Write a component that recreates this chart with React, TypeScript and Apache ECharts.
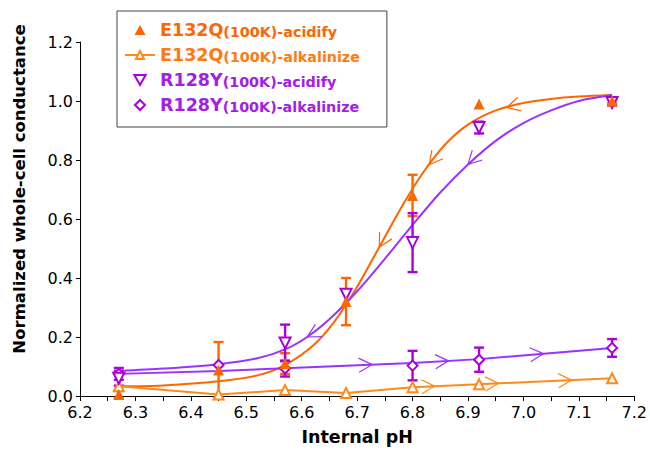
import React, { useEffect, useRef } from 'react';
import * as echarts from 'echarts';

const FONT = '"DejaVu Sans", "Liberation Sans", sans-serif';

// ---- data ----
// E132Q(100K)-acidify : filled triangles, mean ± error
const e132qAcidX = [6.27, 6.45, 6.57, 6.68, 6.8, 6.92, 7.16];
const e132qAcidY = [0.005, 0.088, 0.11, 0.32, 0.68, 0.99, 1.0];
const e132qAcidErr = [0.012, 0.095, 0.035, 0.08, 0.07, 0, 0.008];

// E132Q(100K)-alkalinize : open triangles joined by a line
const e132qAlkX = [6.27, 6.45, 6.57, 6.68, 6.8, 6.92, 7.16];
const e132qAlkY = [0.033, 0.005, 0.02, 0.01, 0.03, 0.04, 0.06];

// R128Y(100K)-acidify : open down-triangles
const r128yAcidX = [6.27, 6.57, 6.68, 6.8, 6.92, 7.16];
const r128yAcidY = [0.06, 0.18, 0.345, 0.52, 0.91, 0.995];
const r128yAcidErr = [0.025, 0.062, 0, 0.1, 0.02, 0.01];

// R128Y(100K)-alkalinize : open diamonds
const r128yAlkX = [6.27, 6.45, 6.57, 6.8, 6.92, 7.16];
const r128yAlkY = [0.075, 0.105, 0.093, 0.103, 0.123, 0.163];
const r128yAlkErr = [0.02, 0, 0.027, 0.05, 0.041, 0.03];

// fitted curves
const e132qFitX = [6.27, 6.35, 6.45, 6.52, 6.57, 6.62, 6.66, 6.7, 6.74, 6.78, 6.82, 6.86, 6.9, 6.95, 7.0, 7.05, 7.1, 7.16];
const e132qFitY = [0.033, 0.036, 0.05, 0.07, 0.105, 0.17, 0.255, 0.37, 0.505, 0.64, 0.76, 0.855, 0.92, 0.968, 0.993, 1.007, 1.015, 1.02];
const r128yFitX = [6.27, 6.35, 6.45, 6.52, 6.57, 6.61, 6.65, 6.7, 6.75, 6.8, 6.85, 6.9, 6.95, 7.0, 7.05, 7.1, 7.16];
const r128yFitY = [0.085, 0.093, 0.108, 0.128, 0.158, 0.2, 0.26, 0.355, 0.465, 0.58, 0.69, 0.785, 0.865, 0.925, 0.968, 1.0, 1.02];
const r128yAlkLineX = [6.27, 6.45, 6.57, 6.8, 6.92, 7.16];
const r128yAlkLineY = [0.075, 0.085, 0.094, 0.112, 0.125, 0.163];

// arrow heads along the lines (x positions)
const e132qFitArrows = [6.74, 6.83, 6.97];
const r128yFitArrows = [6.61, 6.9];
const e132qAlkArrows = [6.84, 6.955, 7.087];
const r128yAlkArrows = [6.727, 6.865, 7.036];

const legendNames = [
  'E132Q(100K)-acidify',
  'E132Q(100K)-alkalinize',
  'R128Y(100K)-acidify',
  'R128Y(100K)-alkalinize',
];

const C_E_ACID = '#FF6600';
const C_E_ALK = '#FF8A1A';
const C_R_MARK = '#AA00DD';
const C_R_LINE = '#9933FF';
const TXT = ['#FF6600', '#FF7A10', '#A220E6', '#A220E6'];

const ICON_UP = 'path://M5,0 L10,9 L0,9 Z';
const ICON_DOWN = 'path://M0,0 L9,0 L4.5,8 Z';
const ICON_DIAMOND = 'path://M4,0 L8,4 L4,8 L0,4 Z';

const zip = (xs: number[], ys: number[]) => xs.map((x, i) => [x, ys[i]]);

function errSeries(xs: number[], ys: number[], es: number[], color: string) {
  const data = xs
    .map((x, i) => [x, ys[i] - es[i], ys[i] + es[i], es[i]])
    .filter((d) => d[3] > 0);
  return {
    type: 'custom',
    silent: true,
    z: 4,
    data,
    encode: { x: 0, y: [1, 2] },
    renderItem: (_p: any, api: any) => {
      const x = api.value(0);
      const lo = api.coord([x, api.value(1)]);
      const hi = api.coord([x, api.value(2)]);
      const hw = 5;
      const st = { stroke: color, lineWidth: 2.4 };
      return {
        type: 'group',
        children: [
          { type: 'line', shape: { x1: lo[0], y1: lo[1], x2: hi[0], y2: hi[1] }, style: st },
          { type: 'line', shape: { x1: lo[0] - hw, y1: lo[1], x2: lo[0] + hw, y2: lo[1] }, style: st },
          { type: 'line', shape: { x1: hi[0] - hw, y1: hi[1], x2: hi[0] + hw, y2: hi[1] }, style: st },
        ],
      };
    },
  };
}

function arrowSeries(cx: number[], cy: number[], xs: number[], dir: number, color: string) {
  return {
    type: 'custom',
    silent: true,
    z: 3,
    data: xs.map((x) => [x, 0.5]),
    encode: { x: 0, y: 1 },
    renderItem: (_p: any, api: any) => {
      const x = api.value(0);
      let i = 0;
      while (i < cx.length - 2 && cx[i + 1] < x) i++;
      const p0 = api.coord([cx[i], cy[i]]);
      const p1 = api.coord([cx[i + 1], cy[i + 1]]);
      const t = (x - cx[i]) / (cx[i + 1] - cx[i]);
      const tip = [p0[0] + t * (p1[0] - p0[0]), p0[1] + t * (p1[1] - p0[1])];
      let dx = (p1[0] - p0[0]) * dir;
      let dy = (p1[1] - p0[1]) * dir;
      const len = Math.hypot(dx, dy) || 1;
      dx /= len;
      dy /= len;
      const bx = -dx;
      const by = -dy;
      const a = (28 * Math.PI) / 180;
      const L = 15;
      const rot = (ang: number) => [bx * Math.cos(ang) - by * Math.sin(ang), bx * Math.sin(ang) + by * Math.cos(ang)];
      const w1 = rot(a);
      const w2 = rot(-a);
      return {
        type: 'polyline',
        shape: {
          points: [
            [tip[0] + w1[0] * L, tip[1] + w1[1] * L],
            tip,
            [tip[0] + w2[0] * L, tip[1] + w2[1] * L],
          ],
        },
        style: { stroke: color, fill: 'none', lineWidth: 1.2 },
      };
    },
  };
}

const rich: Record<string, any> = {};
TXT.forEach((c, i) => {
  rich['h' + i] = { color: c, fontSize: 17.5, fontWeight: 'bold', fontFamily: FONT, verticalAlign: 'bottom' };
  rich['t' + i] = { color: c, fontSize: 14.3, fontWeight: 'bold', fontFamily: FONT, verticalAlign: 'bottom' };
});

export default function App() {
  const ref = useRef<HTMLDivElement>(null);
  useEffect(() => {
    if (!ref.current) return;
    const chart = echarts.init(ref.current, undefined, { renderer: 'svg' });
    const option: any = {
      animation: false,
      backgroundColor: '#fff',
      grid: { left: 80, right: 14, top: 42, bottom: 55, containLabel: false },
      legend: {
        data: [
          { name: legendNames[0], icon: ICON_UP },
          { name: legendNames[1] },
          { name: legendNames[2], icon: ICON_DOWN },
          { name: legendNames[3], icon: ICON_DIAMOND },
        ],
        orient: 'vertical',
        left: 117,
        top: 11,
        padding: [10, 27, 13, 7],
        itemGap: 7,
        itemWidth: 30,
        itemHeight: 10,
        symbolKeepAspect: true,
        borderColor: '#444',
        borderWidth: 1,
        backgroundColor: '#fff',
        selectedMode: false,
        textStyle: { fontFamily: FONT, rich },
        formatter: (name: string) => {
          const i = legendNames.indexOf(name);
          const k = name.indexOf('(');
          return `{h${i}|${name.slice(0, k)}}{t${i}|${name.slice(k)}}`;
        },
      },
      xAxis: {
        type: 'value',
        min: 6.2,
        max: 7.2,
        interval: 0.1,
        name: 'Internal pH',
        nameLocation: 'middle',
        nameGap: 32,
        nameTextStyle: { fontFamily: FONT, fontSize: 17.5, fontWeight: 'bold', color: '#000' },
        axisLine: { show: true, onZero: false, lineStyle: { color: '#000', width: 1 } },
        axisTick: { show: true, inside: false, length: 5, lineStyle: { color: '#000' } },
        minorTick: { show: true, splitNumber: 2, length: 5, lineStyle: { color: '#000' } },
        splitLine: { show: false },
        axisLabel: {
          fontFamily: FONT,
          fontSize: 16,
          color: '#000',
          margin: 8,
          formatter: (v: number) => v.toFixed(1),
        },
      },
      yAxis: {
        type: 'value',
        min: 0,
        max: 1.2,
        interval: 0.2,
        axisLine: { show: true, lineStyle: { color: '#000', width: 1 } },
        axisTick: { show: true, inside: false, length: 4, lineStyle: { color: '#000' } },
        splitLine: { show: false },
        axisLabel: {
          fontFamily: FONT,
          fontSize: 16,
          color: '#000',
          margin: 7,
          formatter: (v: number) => v.toFixed(1),
        },
      },
      graphic: [
        {
          type: 'text',
          x: 19,
          y: 189,
          rotation: Math.PI / 2,
          style: {
            text: 'Normalized whole-cell conductance',
            fontFamily: FONT,
            fontSize: 16.5,
            fontWeight: 'bold',
            fill: '#000',
            align: 'center',
            verticalAlign: 'middle',
            textAlign: 'center',
            textVerticalAlign: 'middle',
          },
        },
      ],
      series: [
        {
          name: 'fitE',
          type: 'line',
          data: zip(e132qFitX, e132qFitY),
          smooth: 0.3,
          showSymbol: false,
          symbol: 'none',
          silent: true,
          z: 2,
          lineStyle: { color: C_E_ACID, width: 2 },
        },
        {
          name: 'fitR',
          type: 'line',
          data: zip(r128yFitX, r128yFitY),
          smooth: 0.3,
          showSymbol: false,
          symbol: 'none',
          silent: true,
          z: 2,
          lineStyle: { color: C_R_LINE, width: 2 },
        },
        {
          name: 'lineR',
          type: 'line',
          data: zip(r128yAlkLineX, r128yAlkLineY),
          showSymbol: false,
          symbol: 'none',
          silent: true,
          z: 2,
          lineStyle: { color: C_R_LINE, width: 2 },
        },
        arrowSeries(e132qFitX, e132qFitY, e132qFitArrows, -1, C_E_ACID),
        arrowSeries(r128yFitX, r128yFitY, r128yFitArrows, -1, C_R_LINE),
        arrowSeries(e132qAlkX, e132qAlkY, e132qAlkArrows, 1, C_E_ALK),
        arrowSeries(r128yAlkLineX, r128yAlkLineY, r128yAlkArrows, 1, C_R_LINE),
        errSeries(e132qAcidX, e132qAcidY, e132qAcidErr, C_E_ACID),
        errSeries(r128yAcidX, r128yAcidY, r128yAcidErr, C_R_MARK),
        errSeries(r128yAlkX, r128yAlkY, r128yAlkErr, C_R_MARK),
        {
          name: legendNames[1],
          type: 'line',
          data: zip(e132qAlkX, e132qAlkY),
          symbol: 'triangle',
          symbolSize: 10,
          showAllSymbol: true,
          z: 5,
          lineStyle: { color: C_E_ALK, width: 2 },
          itemStyle: { color: '#fff', borderColor: C_E_ALK, borderWidth: 2 },
        },
        {
          name: legendNames[3],
          type: 'scatter',
          data: zip(r128yAlkX, r128yAlkY),
          symbol: 'diamond',
          symbolSize: 10,
          z: 5,
          itemStyle: { color: '#fff', borderColor: C_R_MARK, borderWidth: 2, opacity: 1 },
        },
        {
          name: legendNames[2],
          type: 'scatter',
          data: zip(r128yAcidX, r128yAcidY),
          symbol: 'triangle',
          symbolRotate: 180,
          symbolSize: 11,
          z: 6,
          itemStyle: { color: '#fff', borderColor: C_R_MARK, borderWidth: 2, opacity: 1 },
        },
        {
          name: legendNames[0],
          type: 'scatter',
          data: zip(e132qAcidX, e132qAcidY),
          symbol: 'triangle',
          symbolSize: 11,
          z: 7,
          itemStyle: { color: C_E_ACID, opacity: 1 },
        },
      ],
    };
    chart.setOption(option);
    return () => chart.dispose();
  }, []);
  return (
    <div
      ref={ref}
      style={{ position: 'fixed', left: 0, top: 0, width: 650, height: 451, background: '#fff' }}
    />
  );
}
